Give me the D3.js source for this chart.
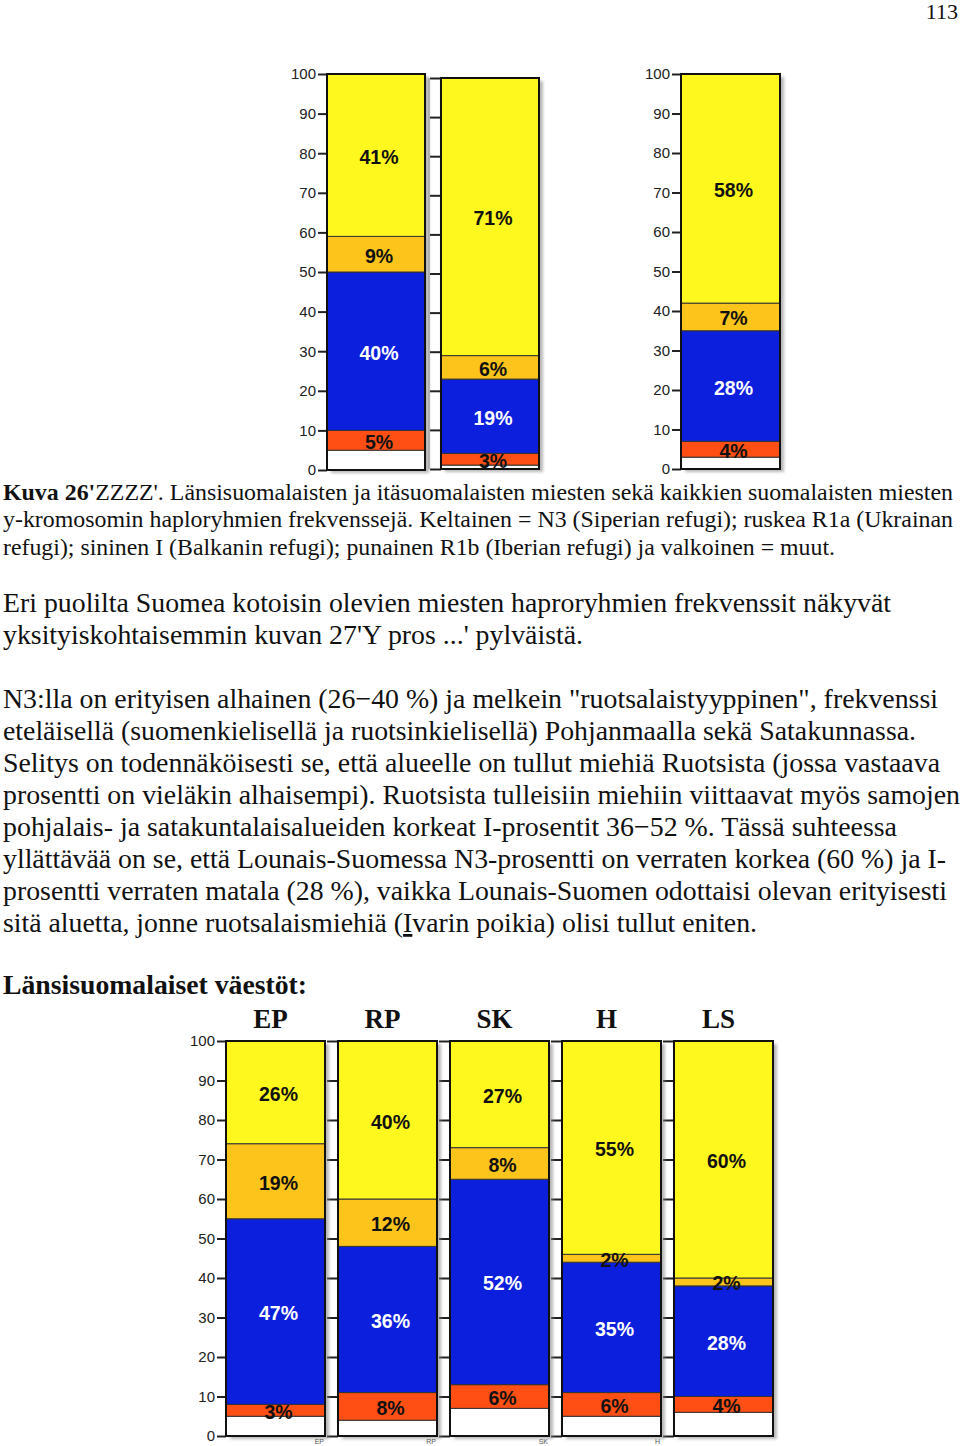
<!DOCTYPE html>
<html>
<head>
<meta charset="utf-8">
<script src="https://cdn.jsdelivr.net/npm/d3@7"></script>
<style>
  body { margin: 0; background: #fff; }
  svg { display: block; }
  .serif { font-family: "Liberation Serif", Tinos, "Times New Roman", Times, serif; }
  .sans { font-family: "Liberation Sans", Arimo, Arial, Helvetica, sans-serif; }
</style>
</head>
<body>
<script>
// DATA (percentages, bottom of the bar first: muut, R1b, I, R1a, N3)
const keys = ["muut", "R1b", "I", "R1a", "N3"];

// top chart: länsi-, itä- and all Finnish men
const topCats = ["Länsisuomalaiset", "Itäsuomalaiset", "Suomalaiset"];
const topMuut = [5, 1, 3];
const topR1b = [5, 3, 4];
const topI = [40, 19, 28];
const topR1a = [9, 6, 7];
const topN3 = [41, 71, 58];

// bottom chart: western populations (drawn heights)
const bottomCats = ["EP", "RP", "SK", "H", "LS"];
const bottomMuut = [5, 4, 7, 5, 6];
const bottomR1b = [3, 7, 6, 6, 4];
const bottomI = [47, 37, 52, 33, 28];
const bottomR1a = [19, 12, 8, 2, 2];
const bottomN3 = [26, 40, 27, 54, 60];
// percentages as printed on the bars
const bottomR1bLabel = [3, 8, 6, 6, 4];
const bottomILabel = [47, 36, 52, 35, 28];
const bottomN3Label = [26, 40, 27, 55, 60];

const ticks = [0, 10, 20, 30, 40, 50, 60, 70, 80, 90, 100];

const colors = {
  muut: "#ffffff",
  R1b: "#ff4f14",
  I: "#0c1fdc",
  R1a: "#fdc41c",
  N3: "#fff81f",
};

const svg = d3.select("body").append("svg")
  .attr("width", 960)
  .attr("height", 1446);

svg.append("defs").append("filter")
  .attr("id", "shadow")
  .append("feGaussianBlur")
  .attr("stdDeviation", 1.5);

function makeRows(cats, cols) {
  return cats.map((c, i) => {
    const row = { cat: c };
    keys.forEach((k, j) => (row[k] = cols[j][i]));
    return row;
  });
}

// one stacked bar chart panel
function drawBars(rows, x, y, labels) {
  const stacked = d3.stack().keys(keys)(rows);
  const g = svg.append("g");

  // shadow
  g.selectAll("rect.shadow")
    .data(rows)
    .join("rect")
    .attr("x", (d) => x(d.cat) + 4)
    .attr("y", y(100) + 3)
    .attr("width", x.bandwidth())
    .attr("height", y(0) - y(100))
    .attr("fill", "#888")
    .attr("opacity", 0.6)
    .attr("filter", "url(#shadow)");

  stacked.forEach((layer) => {
    g.selectAll(null)
      .data(layer)
      .join("rect")
      .attr("x", (d) => x(d.data.cat))
      .attr("y", (d) => y(d[1]))
      .attr("width", x.bandwidth())
      .attr("height", (d) => y(d[0]) - y(d[1]))
      .attr("fill", colors[layer.key])
      .attr("stroke", "#333")
      .attr("stroke-width", 1);
  });

  g.selectAll("rect.outline")
    .data(rows)
    .join("rect")
    .attr("x", (d) => x(d.cat))
    .attr("y", y(100))
    .attr("width", x.bandwidth())
    .attr("height", y(0) - y(100))
    .attr("fill", "none")
    .attr("stroke", "#111")
    .attr("stroke-width", 2);

  stacked.forEach((layer) => {
    if (layer.key == "muut") return;
    g.selectAll(null)
      .data(layer)
      .join("text")
      .attr("class", "sans")
      .attr("x", (d) => x(d.data.cat) + x.bandwidth() / 2 + 3)
      .attr("y", (d) => y((d[0] + d[1]) / 2) + 1.5)
      .attr("dy", "0.36em")
      .attr("text-anchor", "middle")
      .style("font-weight", "bold")
      .style("font-size", "19.5px")
      .attr("fill", layer.key == "I" ? "#fff" : "#111")
      .text((d, i) => labels[layer.key][i] + "%");
  });
}

function drawAxis(xPos, y, withLabels) {
  const axis = d3.axisLeft(y)
    .tickValues(ticks)
    .tickSize(withLabels ? 9 : 11)
    .tickPadding(2)
    .tickFormat(withLabels ? d3.format("d") : "");
  const g = svg.append("g")
    .attr("transform", `translate(${xPos},0)`)
    .call(axis);
  g.select(".domain").remove();
  g.selectAll(".tick line").attr("stroke", "#222").attr("stroke-width", 2);
  g.selectAll(".tick text")
    .attr("class", "sans")
    .style("font-size", "15px")
    .attr("fill", "#222");
}

// TOP CHART
const rowsTop = makeRows(topCats, [topMuut, topR1b, topI, topR1a, topN3]);

const xTopA = d3.scaleBand().domain(topCats.slice(0, 2)).range([327, 539]).paddingInner(0.14);
const yTopA = d3.scaleLinear().domain([0, 100]).range([470, 74]);
const yTopA2 = d3.scaleLinear().domain([0, 100]).range([469, 78]);
const xTopB = d3.scaleBand().domain(topCats.slice(2)).range([681, 780]);
const yTopB = d3.scaleLinear().domain([0, 100]).range([469, 74]);

// thin guide line left of the second bar
svg.append("line")
  .attr("x1", 429).attr("x2", 429)
  .attr("y1", yTopA2(100)).attr("y2", yTopA2(0))
  .attr("stroke", "#aaa").attr("stroke-width", 1.5);

drawAxis(xTopA(topCats[0]), yTopA, true);
drawAxis(xTopA(topCats[1]), yTopA2, false);
drawAxis(xTopB(topCats[2]), yTopB, true);

function topLabels(a, b) {
  return { R1b: topR1b.slice(a, b), I: topI.slice(a, b), R1a: topR1a.slice(a, b), N3: topN3.slice(a, b) };
}
drawBars(rowsTop.slice(0, 1), xTopA, yTopA, topLabels(0, 1));
drawBars(rowsTop.slice(1, 2), xTopA, yTopA2, topLabels(1, 2));
drawBars(rowsTop.slice(2), xTopB, yTopB, topLabels(2, 3));

// BOTTOM CHART
const rowsBottom = makeRows(bottomCats, [bottomMuut, bottomR1b, bottomI, bottomR1a, bottomN3]);
const xBottom = d3.scaleBand().domain(bottomCats).range([226, 773]).paddingInner(0.116);
const yBottom = d3.scaleLinear().domain([0, 100]).range([1436, 1041]);

bottomCats.forEach((c, i) => drawAxis(xBottom(c), yBottom, i == 0));
drawBars(rowsBottom, xBottom, yBottom, { R1b: bottomR1bLabel, I: bottomILabel, R1a: bottomR1a, N3: bottomN3Label });

// population titles above the bars
svg.append("g")
  .selectAll("text")
  .data(bottomCats)
  .join("text")
  .attr("class", "serif")
  .attr("x", (d) => xBottom(d) + xBottom.bandwidth() / 2 - 5)
  .attr("y", 1028)
  .attr("text-anchor", "middle")
  .style("font-weight", "bold")
  .style("font-size", "27px")
  .attr("fill", "#111")
  .text((d) => d);

// tiny tags under the bars
svg.append("g")
  .selectAll("text")
  .data(bottomCats.slice(0, 4))
  .join("text")
  .attr("class", "sans")
  .attr("x", (d) => xBottom(d) + xBottom.bandwidth() - 1)
  .attr("y", 1444)
  .attr("text-anchor", "end")
  .style("font-size", "7px")
  .attr("fill", "#555")
  .text((d) => d);

// TEXT
function textBlock(lines, x, y0, lh, widths) {
  const g = svg.append("g").attr("class", "serif").attr("fill", "#111");
  const nodes = lines.map((parts, i) => {
    const t = g.append("text")
      .attr("x", x)
      .attr("y", y0 + i * lh)
      .style("font-size", "20px");
    (typeof parts == "string" ? [{ t: parts }] : parts).forEach((p) => {
      t.append("tspan")
        .style("font-weight", p.b ? "bold" : null)
        .style("text-decoration", p.u ? "underline" : null)
        .text(p.t);
    });
    return t;
  });
  const ratio = d3.mean(nodes, (t, i) => widths[i] / t.node().getComputedTextLength());
  nodes.forEach((t, i) => {
    t.style("font-size", 20 * ratio + "px")
      .attr("textLength", widths[i])
      .attr("lengthAdjust", "spacingAndGlyphs");
  });
}

svg.append("text")
  .attr("class", "serif")
  .attr("x", 958)
  .attr("y", 19)
  .attr("text-anchor", "end")
  .style("font-size", "22px")
  .attr("fill", "#111")
  .text("113");

textBlock(
  [
    [{ t: "Kuva 26'", b: true }, { t: "ZZZZ'. Länsisuomalaisten ja itäsuomalaisten miesten sekä kaikkien suomalaisten miesten" }],
    "y-kromosomin haploryhmien frekvenssejä. Keltainen = N3 (Siperian refugi); ruskea R1a (Ukrainan",
    "refugi); sininen I (Balkanin refugi); punainen R1b (Iberian refugi) ja valkoinen = muut.",
  ],
  3, 499.5, 27.5, [950, 950, 832]
);

textBlock(
  [
    "Eri puolilta Suomea kotoisin olevien miesten haproryhmien frekvenssit näkyvät",
    "yksityiskohtaisemmin kuvan 27'Y pros ...' pylväistä.",
  ],
  3, 612, 32, [888, 580]
);

textBlock(
  [
    "N3:lla on erityisen alhainen (26−40 %) ja melkein \"ruotsalaistyyppinen\", frekvenssi",
    "eteläisellä (suomenkielisellä ja ruotsinkielisellä) Pohjanmaalla sekä Satakunnassa.",
    "Selitys on todennäköisesti se, että alueelle on tullut miehiä Ruotsista (jossa vastaava",
    "prosentti on vieläkin alhaisempi). Ruotsista tulleisiin miehiin viittaavat myös samojen",
    "pohjalais- ja satakuntalaisalueiden korkeat I-prosentit 36−52 %. Tässä suhteessa",
    "yllättävää on se, että Lounais-Suomessa N3-prosentti on verraten korkea (60 %) ja I-",
    "prosentti verraten matala (28 %), vaikka Lounais-Suomen odottaisi olevan erityisesti",
    [{ t: "sitä aluetta, jonne ruotsalaismiehiä (" }, { t: "I", u: true }, { t: "varin poikia) olisi tullut eniten." }],
  ],
  3, 708, 32, [935, 913, 937, 957, 894, 943, 944, 754]
);

textBlock(
  [[{ t: "Länsisuomalaiset väestöt:", b: true }]],
  3, 994, 32, [304]
);
</script>
</body>
</html>
